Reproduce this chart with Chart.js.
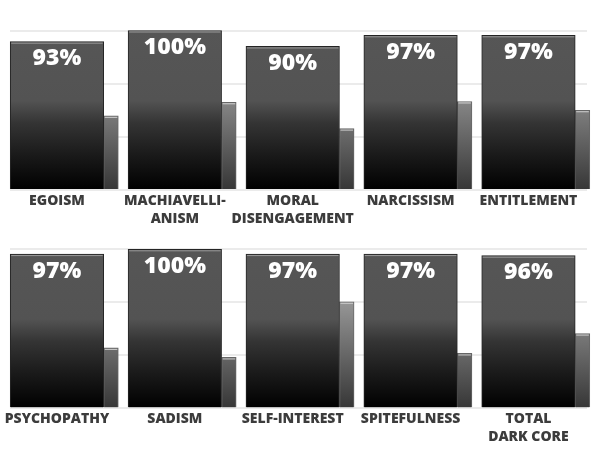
<!DOCTYPE html>
<html>
<head>
<meta charset="utf-8">
<script src="https://cdn.jsdelivr.net/npm/chart.js@4.4.0/dist/chart.umd.min.js"></script>
<style>
  html, body { margin: 0; padding: 0; background: #fff; overflow: hidden; }
  .row { position: relative; width: 597px; height: 235px; }
</style>
</head>
<body>
<div class="row"><canvas id="topChart"></canvas></div>
<div class="row"><canvas id="bottomChart"></canvas></div>
<script>
// top row
const topLabels = ["EGOISM", ["MACHIAVELLI-", "ANISM"], ["MORAL", "DISENGAGEMENT"], "NARCISSISM", "ENTITLEMENT"];
const topScores = [93, 100, 90, 97, 97];
const topCompare = [46.5, 55, 38.5, 55.5, 50];

// bottom row
const bottomLabels = ["PSYCHOPATHY", "SADISM", "SELF-INTEREST", "SPITEFULNESS", ["TOTAL", "DARK CORE"]];
const bottomScores = [97, 100, 97, 97, 96];
const bottomCompare = [38, 32, 67, 34.5, 47];

const FONT = "'Open Sans', 'DejaVu Sans', sans-serif";

function bigFill(context) {
  const { chart } = context;
  const area = chart.chartArea;
  if (!area) return "#555";
  const g = chart.ctx.createLinearGradient(0, area.top, 0, area.bottom);
  g.addColorStop(0, "#565656");
  g.addColorStop(0.44, "#535353");
  g.addColorStop(0.58, "#343434");
  g.addColorStop(0.78, "#1a1a1a");
  g.addColorStop(1, "#000000");
  return g;
}

function smallFill(context) {
  const { chart } = context;
  const area = chart.chartArea;
  if (!area) return "#777";
  const g = chart.ctx.createLinearGradient(0, area.top, 0, area.bottom);
  g.addColorStop(0, "#c6c6c6");
  g.addColorStop(1, "#363636");
  return g;
}

// light line along the top edge of each bar + percentage on the big bar
const barDecor = {
  id: "barDecor",
  afterDatasetsDraw(chart) {
    const ctx = chart.ctx;
    ctx.save();
    chart.data.datasets.forEach((ds, di) => {
      const meta = chart.getDatasetMeta(di);
      meta.data.forEach((bar) => {
        ctx.fillStyle = di === 0 ? "#9a9a9a" : "#cfcfcf";
        ctx.fillRect(bar.x - bar.width / 2 + 1, bar.y + 1, bar.width - 2, 1);
      });
    });
    const big = chart.getDatasetMeta(0);
    ctx.fillStyle = "#ffffff";
    ctx.font = "800 23px " + FONT;
    ctx.textAlign = "center";
    ctx.textBaseline = "middle";
    big.data.forEach((bar, i) => {
      ctx.fillText(chart.data.datasets[0].data[i].y + "%", bar.x, bar.y + 17);
    });
    ctx.restore();
  }
};

function makeRow(id, labels, scores, compare, topPad, axisHeight) {
  new Chart(document.getElementById(id), {
    type: "bar",
    data: {
      datasets: [
        {
          data: scores.map((v, i) => ({ x: i, y: v })),
          backgroundColor: bigFill,
          borderColor: "#242424",
          borderWidth: 1,
          barThickness: 93.5,
          clip: false
        },
        {
          data: compare.map((v, i) => ({ x: i, y: v })),
          backgroundColor: smallFill,
          borderColor: "#666666",
          borderWidth: 1,
          barThickness: 14.6,
          clip: false
        }
      ]
    },
    options: {
      responsive: true,
      maintainAspectRatio: false,
      animation: false,
      layout: { padding: { left: 10, right: 10, top: topPad, bottom: 0 } },
      plugins: { legend: { display: false }, tooltip: { enabled: false } },
      scales: {
        x: {
          type: "linear",
          offset: false,
          min: -0.795,
          max: 4.1,
          grid: { display: false, drawTicks: false, offset: false },
          border: { display: false },
          afterBuildTicks(scale) {
            scale.ticks = labels.map((l, i) => ({ value: i }));
          },
          afterFit(scale) {
            scale.height = axisHeight;
            scale.paddingLeft = 0;
            scale.paddingRight = 0;
          },
          ticks: {
            autoSkip: false,
            maxRotation: 0,
            padding: 2,
            labelOffset: -46.75,
            color: "#3c3c3c",
            font: { family: FONT, size: 14, weight: "800", lineHeight: 1.27 },
            callback: (value) => labels[value]
          }
        },
        y: {
          min: 0,
          max: 100,
          ticks: { display: false, count: 4 },
          grid: { color: "#ebebeb", lineWidth: 2, drawTicks: false },
          border: { display: false },
          afterFit(scale) {
            scale.width = 0;
            scale.paddingTop = 0;
            scale.paddingBottom = 0;
          }
        }
      }
    },
    plugins: [barDecor]
  });
}

makeRow("topChart", topLabels, topScores, topCompare, 30.5, 45);
makeRow("bottomChart", bottomLabels, bottomScores, bottomCompare, 14.3, 61.7);
</script>
</body>
</html>
